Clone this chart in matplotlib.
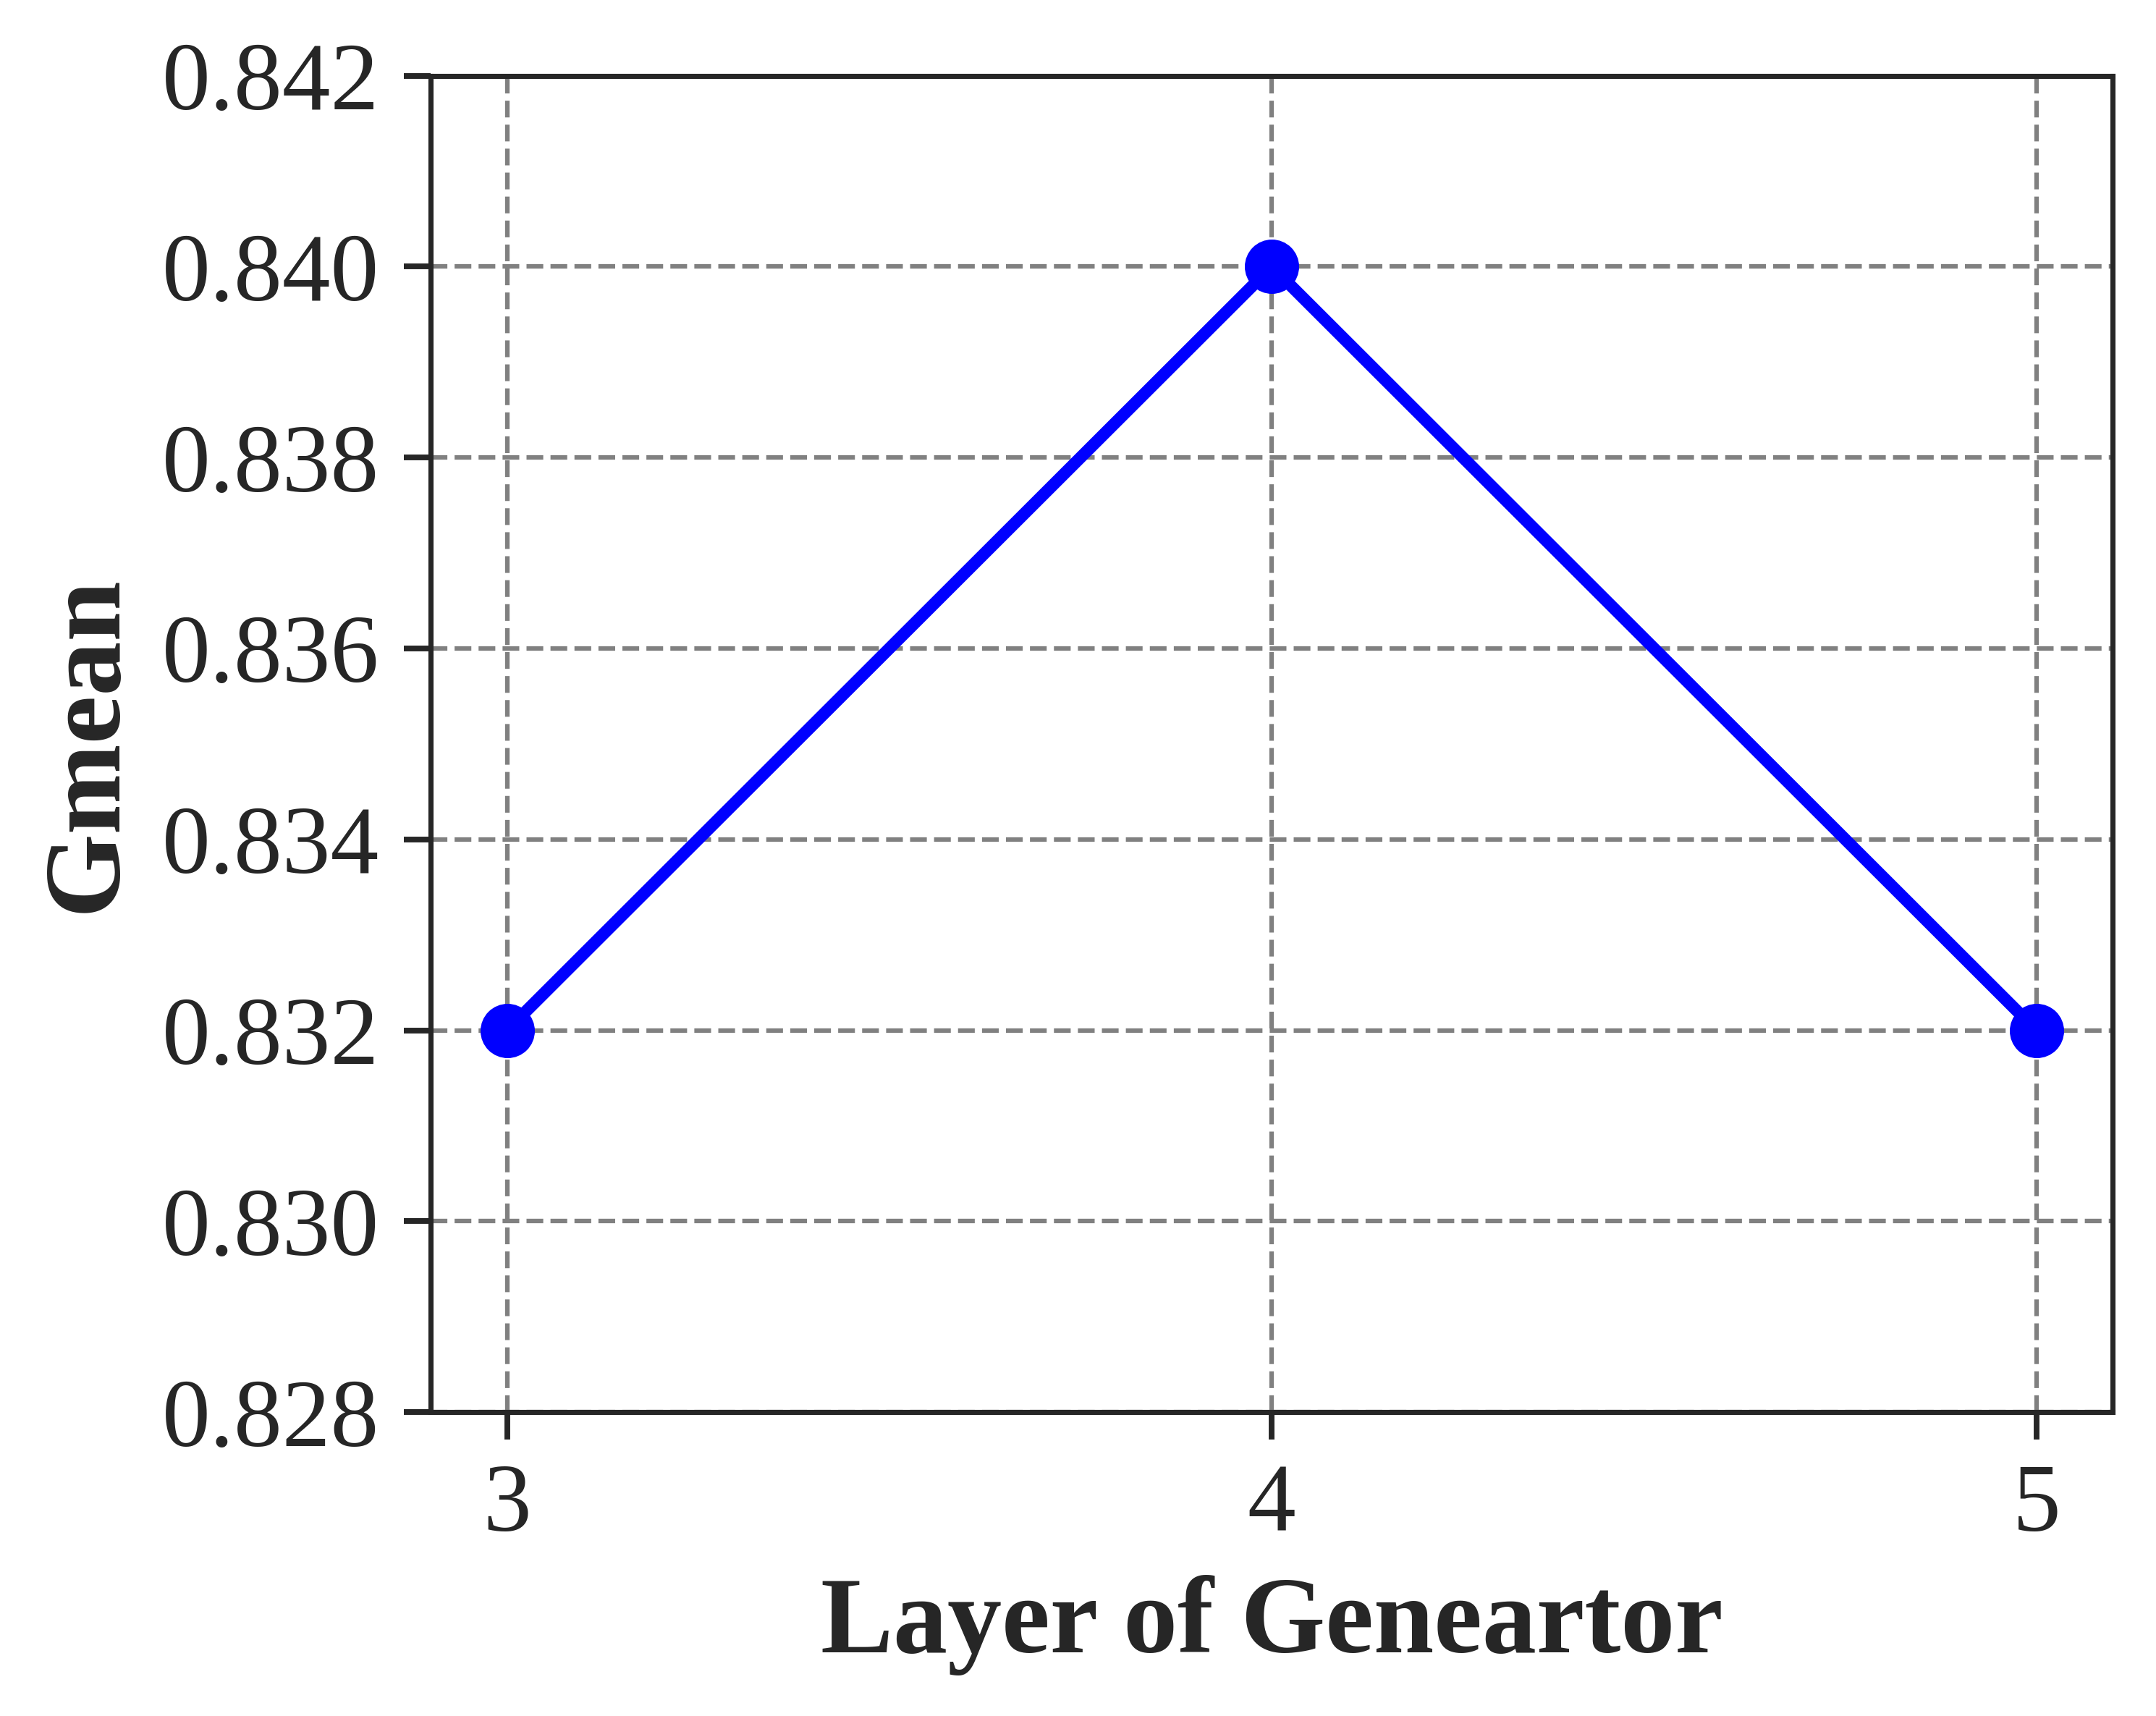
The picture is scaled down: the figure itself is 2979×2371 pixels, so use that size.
import matplotlib
matplotlib.use("Agg")
import matplotlib.pyplot as plt

layers = [3, 4, 5]
gmean = [0.832, 0.840, 0.832]
yticks = [0.828, 0.830, 0.832, 0.834, 0.836, 0.838, 0.840, 0.842]

plt.rcParams['font.family'] = ['Liberation Serif', 'DejaVu Serif']
plt.rcParams['mathtext.fontset'] = 'stix'

dpi = 300
fig = plt.figure(figsize=(2979 / dpi, 2371 / dpi), dpi=dpi)
ax = fig.add_axes([0.1997, 0.1771, 0.980 - 0.1997, 0.9559 - 0.1771])

ax.plot(layers, gmean, color='#0000ff', linewidth=4, marker='o', markersize=17, zorder=3)

ax.set_xlim(2.9, 5.1)
ax.set_ylim(0.828, 0.842)
ax.set_xticks(layers)
ax.set_xticklabels([str(v) for v in layers])
ax.set_yticks(yticks)
ax.set_yticklabels([f"{v:.3f}" for v in yticks])

ax.grid(True, linestyle='--', color='#808080', linewidth=1.5)
ax.set_axisbelow(True)

for s in ax.spines.values():
    s.set_color('#262626')
    s.set_linewidth(1.7)

ax.tick_params(axis='both', which='major', direction='out', length=9, width=1.9,
               color='#262626', labelcolor='#262626', labelsize=32, pad=8)

ax.set_xlabel('Layer of Geneartor', fontsize=36, fontweight='bold', color='#262626', labelpad=8)
ax.set_ylabel('Gmean', fontsize=36, fontweight='bold', color='#262626', labelpad=8)

fig.savefig('out.png', dpi=dpi)
